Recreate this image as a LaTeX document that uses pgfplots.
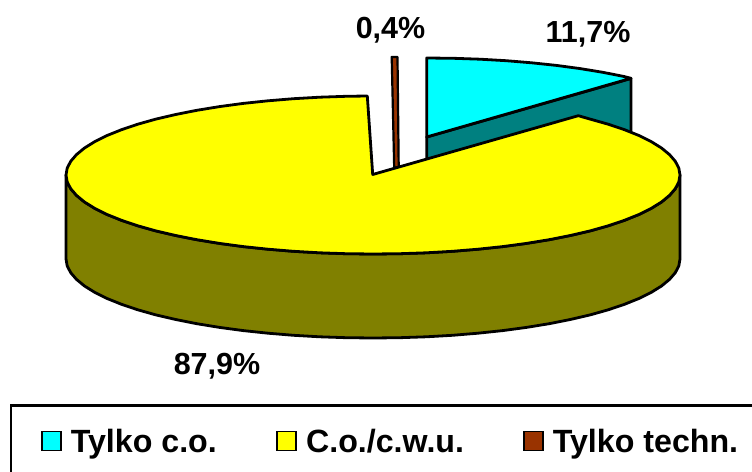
\documentclass[border=0pt]{standalone}
\usepackage{fontspec}
\setmainfont{Liberation Sans}
\usepackage{pgfplots}
\pgfplotsset{compat=1.18}
\definecolor{cy}{HTML}{00FFFF}
\definecolor{te}{HTML}{008080}
\definecolor{ye}{HTML}{FFFF00}
\definecolor{ol}{HTML}{808000}
\definecolor{br}{HTML}{993300}
\begin{document}
\begin{tikzpicture}
\path[use as bounding box] (0,0) rectangle (752bp,472bp);
\begin{axis}[
  at={(0,0)}, anchor=south west,
  scale only axis, width=752bp, height=472bp,
  xmin=0, xmax=752, ymin=0, ymax=472, y dir=reverse,
  hide axis, clip=true,
  legend style={at={(axis cs:41,441.5)}, anchor=west, draw=none, fill=none,
    font=\fontsize{32.3}{38}\selectfont\bfseries, legend columns=3,
    inner sep=0pt, outer sep=0pt,
    /tikz/every even column/.append style={column sep=0pt},
    /tikz/every odd column/.append style={column sep=0pt}},
  legend cell align=left,
]
% brown sliver
\addplot[forget plot, fill=br, draw=black, line width=2.2bp, line join=round] coordinates {
 (391.7,57) (397.5,57) (398.7,167) (394.2,168)} --cycle;
% teal wall
\addplot[forget plot, fill=te, draw=black, line width=2.8bp, line join=round] coordinates {
 (426.7,137) (631,78.5) (631,162) (426.7,221)} --cycle;
% cyan face
\addplot[forget plot, fill=cy, draw=black, line width=2.8bp, line join=round] coordinates {
 (426.7,137) (426.7,58) (453.5,58.3) (480.0,59.2) (506.2,60.7) (531.7,62.8) (556.4,65.4) (580.2,68.6) (602.8,72.3) (624,76.5) (631,78.3)} --cycle;
% olive wall
\addplot[forget plot, fill=ol, draw=black, line width=2.8bp, line join=round] coordinates {
 (680,175) (678.8,181.9) (675.3,188.7) (669.5,195.4) (661.5,202.0) (651.2,208.4) (638.9,214.5) (624.5,220.3) (608.2,225.8) (590.1,230.9) (570.3,235.5) (549.1,239.7) (526.5,243.4) (502.7,246.6) (478.0,249.2) (452.5,251.3) (426.3,252.8) (399.8,253.7) (373,254) (346.2,253.7) (319.7,252.8) (293.5,251.3) (268.0,249.2) (243.3,246.6) (219.5,243.4) (196.9,239.7) (175.7,235.5) (155.9,230.9) (137.8,225.8) (121.5,220.3) (107.1,214.5) (94.8,208.4) (84.5,202.0) (76.5,195.4) (70.7,188.7) (67.2,181.9) (66,175)
 (66,259) (67.2,265.9) (70.7,272.7) (76.5,279.4) (84.5,286.0) (94.8,292.4) (107.1,298.5) (121.5,304.3) (137.8,309.8) (155.9,314.9) (175.7,319.5) (196.9,323.7) (219.5,327.4) (243.3,330.6) (268.0,333.2) (293.5,335.3) (319.7,336.8) (346.2,337.7) (373,338) (399.8,337.7) (426.3,336.8) (452.5,335.3) (478.0,333.2) (502.7,330.6) (526.5,327.4) (549.1,323.7) (570.3,319.5) (590.1,314.9) (608.2,309.8) (624.5,304.3) (638.9,298.5) (651.2,292.4) (661.5,286.0) (669.5,279.4) (675.3,272.7) (678.8,265.9) (680,259)} --cycle;
% yellow face
\addplot[forget plot, fill=ye, draw=black, line width=2.8bp, line join=round] coordinates {
 (372.7,174.5) (578.3,115.7) (590.1,119.1) (608.2,124.2) (624.5,129.7) (638.9,135.5) (651.2,141.6) (661.5,148) (669.5,154.6) (675.3,161.3) (678.8,168.1) (680,175) (678.8,181.9) (675.3,188.7) (669.5,195.4) (661.5,202.0) (651.2,208.4) (638.9,214.5) (624.5,220.3) (608.2,225.8) (590.1,230.9) (570.3,235.5) (549.1,239.7) (526.5,243.4) (502.7,246.6) (478.0,249.2) (452.5,251.3) (426.3,252.8) (399.8,253.7) (373,254) (346.2,253.7) (319.7,252.8) (293.5,251.3) (268.0,249.2) (243.3,246.6) (219.5,243.4) (196.9,239.7) (175.7,235.5) (155.9,230.9) (137.8,225.8) (121.5,220.3) (107.1,214.5) (94.8,208.4) (84.5,202.0) (76.5,195.4) (70.7,188.7) (67.2,181.9) (66,175) (67.2,168.1) (70.7,161.3) (76.5,154.6) (84.5,148) (94.8,141.6) (107.1,135.5) (121.5,129.7) (137.8,124.2) (155.9,119.1) (175.7,114.5) (196.9,110.3) (219.5,106.6) (243.3,103.4) (268,100.8) (293.5,98.7) (319.7,97.2) (346.2,96.3) (367.3,96)} --cycle;
% legend frame
\addplot[forget plot, draw=black, line width=2.5bp] coordinates {
 (11,490) (11,405.5) (770,405.5)};
% legend
\addlegendimage{legend image code/.code={\draw[black,line width=1.8bp,fill=cy] (0bp,-9bp) rectangle (19bp,10bp);}}
\addlegendentry{\hspace*{7bp}Tylko c.o.\hspace*{57.5bp}}
\addlegendimage{legend image code/.code={\draw[black,line width=1.8bp,fill=ye] (0bp,-9bp) rectangle (19bp,10bp);}}
\addlegendentry{\hspace*{7bp}C.o./c.w.u.\hspace*{57bp}}
\addlegendimage{legend image code/.code={\draw[black,line width=1.8bp,fill=br] (0bp,-9bp) rectangle (19bp,10bp);}}
\addlegendentry{\hspace*{7bp}Tylko techn.}
\node[font=\fontsize{30.6}{36}\selectfont\bfseries] at (axis cs:390.5,30) {0,4\%};
\node[font=\fontsize{30.6}{36}\selectfont\bfseries] at (axis cs:588,34) {11,7\%};
\node[font=\fontsize{30.6}{36}\selectfont\bfseries] at (axis cs:217,366) {87,9\%};
\end{axis}
\end{tikzpicture}
\end{document}
